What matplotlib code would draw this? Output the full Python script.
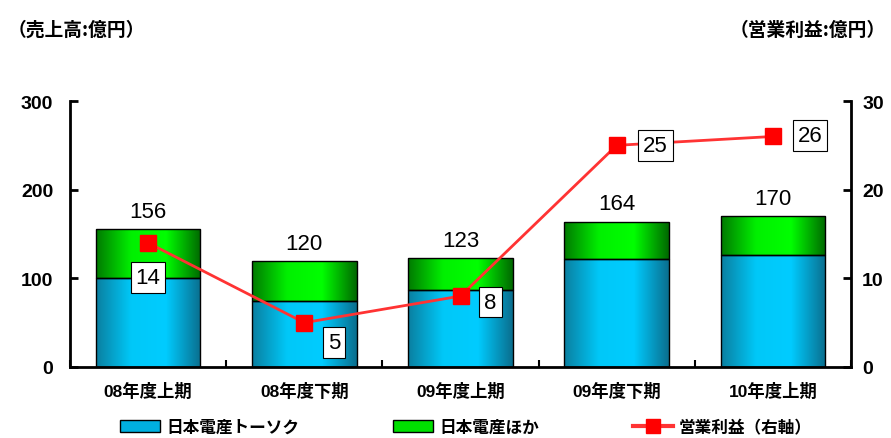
import numpy as np
import matplotlib
matplotlib.use("Agg")
import matplotlib.pyplot as plt
from matplotlib.colors import LinearSegmentedColormap
from matplotlib.patches import Patch
from matplotlib.lines import Line2D

plt.rcParams['font.family'] = ['Liberation Sans', 'Noto Sans CJK JP', 'DejaVu Sans']

categories = ["08年度上期", "08年度下期", "09年度上期", "09年度下期", "10年度上期"]
tokyo = [100, 74, 87, 122, 126]
others = [56, 46, 36, 42, 44]
totals = [156, 120, 123, 164, 170]
profit = [14, 5, 8, 25, 26]
left_ticks = [0, 100, 200, 300]
right_ticks = [0, 10, 20, 30]
legend_labels = ["日本電産トーソク", "日本電産ほか", "営業利益（右軸）"]

fig = plt.figure(figsize=(8.91, 4.39), dpi=100)
ax = fig.add_axes([70/891, 1 - 368/439, 781/891, 266/439])
ax2 = ax.twinx()

blue_cmap = LinearSegmentedColormap.from_list("b", ["#0A7FA0", "#00C8F8", "#00CCFF", "#0A6E8E"])
green_cmap = LinearSegmentedColormap.from_list("g", ["#007A00", "#00F000", "#00FF00", "#006800"])
grad = np.linspace(0, 1, 256).reshape(1, -1)

x = np.arange(len(categories))
w = 0.67
b1 = ax.bar(x, tokyo, w, color="none", edgecolor="black", linewidth=1, zorder=3)
b2 = ax.bar(x, others, w, bottom=tokyo, color="none", edgecolor="black", linewidth=1, zorder=3)
for bars, cmap in ((b1, blue_cmap), (b2, green_cmap)):
    for r in bars:
        x0, y0 = r.get_x(), r.get_y()
        im = ax.imshow(grad, cmap=cmap, aspect="auto", interpolation="bicubic",
                       extent=(x0, x0 + r.get_width(), y0, y0 + r.get_height()), zorder=2)
        im.set_clip_path(r)
for i, t in enumerate(totals):
    ax.text(x[i], t + 8, str(t), ha="center", va="bottom", fontsize=16, zorder=5)

ax.set_xlim(-0.5, len(categories) - 0.5)
ax.set_ylim(0, 300)
ax.set_yticks(left_ticks)
ax.set_xticks(x)
ax.set_xticklabels(categories, fontsize=12.5, fontweight="bold")
ax.set_xticks(np.arange(len(categories) + 1) - 0.5, minor=True)
ax.tick_params(axis="x", which="major", length=0, pad=11)
ax.tick_params(axis="x", which="minor", direction="in", length=5, width=1.5)
ax.tick_params(axis="y", direction="in", length=6, width=2, labelsize=14, pad=12)
ax.spines["top"].set_visible(False)
ax2.spines["top"].set_visible(False)
ax.spines["left"].set_linewidth(2)
ax.spines["bottom"].set_linewidth(2)
ax2.spines["right"].set_linewidth(2)
ax2.spines["left"].set_visible(False)
ax2.spines["bottom"].set_visible(False)
for lab in ax.get_yticklabels():
    lab.set_fontweight("bold")

ax2.set_ylim(0, 30)
ax2.set_yticks(right_ticks)
ax2.tick_params(axis="y", direction="in", length=6, width=2, labelsize=14, pad=8)
for lab in ax2.get_yticklabels():
    lab.set_fontweight("bold")
ax2.plot(x, profit, color="#FF3333", linewidth=2, marker="s", markersize=12,
         markerfacecolor="#FF0000", markeredgecolor="#FF0000", zorder=4)

offsets = [(0, -35), (30, -20), (30, -6), (39, 0), (37, 1)]
for i, (v, (dx, dy)) in enumerate(zip(profit, offsets)):
    ax2.annotate(str(v), (x[i], v), xytext=(dx, dy), textcoords="offset pixels",
                 ha="center", va="center", fontsize=16, zorder=6,
                 bbox=dict(boxstyle="square,pad=0.22", facecolor="white", edgecolor="black", linewidth=0.8))

fig.text(8/891, 1 - 30/439, "（売上高:億円）", fontsize=13.5, fontweight="bold",
         family=["Noto Sans CJK JP"], va="center", ha="left")
fig.text(886/891, 1 - 30/439, "（営業利益:億円）", fontsize=13.5, fontweight="bold",
         family=["Noto Sans CJK JP"], va="center", ha="right")

handles = [Patch(facecolor="#00B0E0", edgecolor="black"),
           Patch(facecolor="#00E000", edgecolor="black"),
           Line2D([0], [0], color="#FF3333", linewidth=3, marker="s", markersize=10,
                  markerfacecolor="#FF0000", markeredgecolor="#FF0000")]
fig.legend(handles, legend_labels, loc="center", bbox_to_anchor=(0.523, 1 - 428/439), ncol=3,
           frameon=False, columnspacing=5.6, handlelength=2.4, handletextpad=0.4,
           prop=dict(family=["Noto Sans CJK JP"], weight="bold", size=12))

fig.savefig("out.png", dpi=100)
